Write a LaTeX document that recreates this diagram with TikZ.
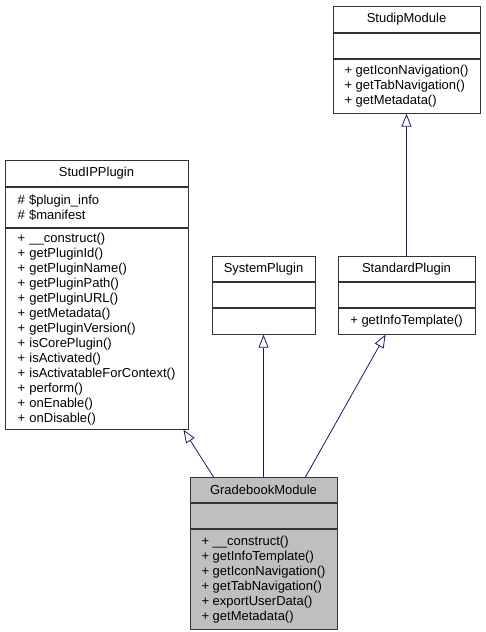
\documentclass[tikz,border=0pt]{standalone}
\usepackage{fontspec}
\setmainfont{Liberation Sans}
\usetikzlibrary{positioning,arrows.meta}
\definecolor{edgeblue}{HTML}{191970}
\definecolor{classgray}{HTML}{BFBFBF}
\begin{document}
\begin{tikzpicture}[x=1pt,y=-1pt,
    part/.style={draw=black!80, line width=.9pt, inner sep=2pt, align=left,
                 font=\fontsize{13}{15}\selectfont},
    inherit/.style={draw=edgeblue, line width=.8pt,
                    -{Triangle[open,length=13pt,width=10pt]}}]
    \useasboundingbox (0,0) rectangle (486,632);
    % StudipModule
    \node[part, anchor=north, minimum width=147, minimum height=26] (studipmodule) at (406.5,6) {StudipModule};
    \node[part, below=0pt of studipmodule, minimum width=147, minimum height=25] (studipmodule-attr) {};
    \node[part, below=0pt of studipmodule-attr, minimum width=147, minimum height=54] (studipmodule-ops)
        {+ getIconNavigation()\\+ getTabNavigation()\\+ getMetadata()};
    % StudIPPlugin
    \node[part, anchor=north, minimum width=183, minimum height=26] (studipplugin) at (96.5,160) {StudIPPlugin};
    \node[part, below=0pt of studipplugin, minimum width=183, minimum height=40, text width=158] (studipplugin-attr)
        {\# \$plugin\_info\\\# \$manifest};
    \node[part, below=0pt of studipplugin-attr, minimum width=183, minimum height=201, text width=158] (studipplugin-ops)
        {+ \_\_construct()\\+ getPluginId()\\+ getPluginName()\\+ getPluginPath()\\+ getPluginURL()\\+ getMetadata()\\+ getPluginVersion()\\+ isCorePlugin()\\+ isActivated()\\+ isActivatableForContext()\\+ perform()\\+ onEnable()\\+ onDisable()};
    % SystemPlugin
    \node[part, anchor=north, minimum width=103, minimum height=25] (systemplugin) at (263.5,256) {SystemPlugin};
    \node[part, below=0pt of systemplugin, minimum width=103, minimum height=25] (systemplugin-attr) {};
    \node[part, below=0pt of systemplugin-attr, minimum width=103, minimum height=26] (systemplugin-ops) {};
    % StandardPlugin
    \node[part, anchor=north, minimum width=137, minimum height=25] (standardplugin) at (406.5,256) {StandardPlugin};
    \node[part, below=0pt of standardplugin, minimum width=137, minimum height=25] (standardplugin-attr) {};
    \node[part, below=0pt of standardplugin-attr, minimum width=137, minimum height=26] (standardplugin-ops)
        {+ getInfoTemplate()};
    % GradebookModule
    \node[part, fill=classgray, anchor=north, minimum width=147, minimum height=25] (gradebook) at (263.5,477) {GradebookModule};
    \node[part, fill=classgray, below=0pt of gradebook, minimum width=147, minimum height=25] (gradebook-attr) {};
    \node[part, fill=classgray, below=0pt of gradebook-attr, minimum width=147, minimum height=100] (gradebook-ops)
        {+ \_\_construct()\\+ getInfoTemplate()\\+ getIconNavigation()\\+ getTabNavigation()\\+ exportUserData()\\+ getMetadata()};
    % inheritance
    \draw[inherit] ([xshift=24pt]gradebook.north west) -- ([xshift=-5pt]studipplugin-ops.south east);
    \draw[inherit] (gradebook.north) -- (systemplugin-ops.south);
    \draw[inherit] ([xshift=-32pt]gradebook.north east) -- ([xshift=48pt]standardplugin-ops.south west);
    \draw[inherit] (standardplugin.north) -- (studipmodule-ops.south);
\end{tikzpicture}
\end{document}
